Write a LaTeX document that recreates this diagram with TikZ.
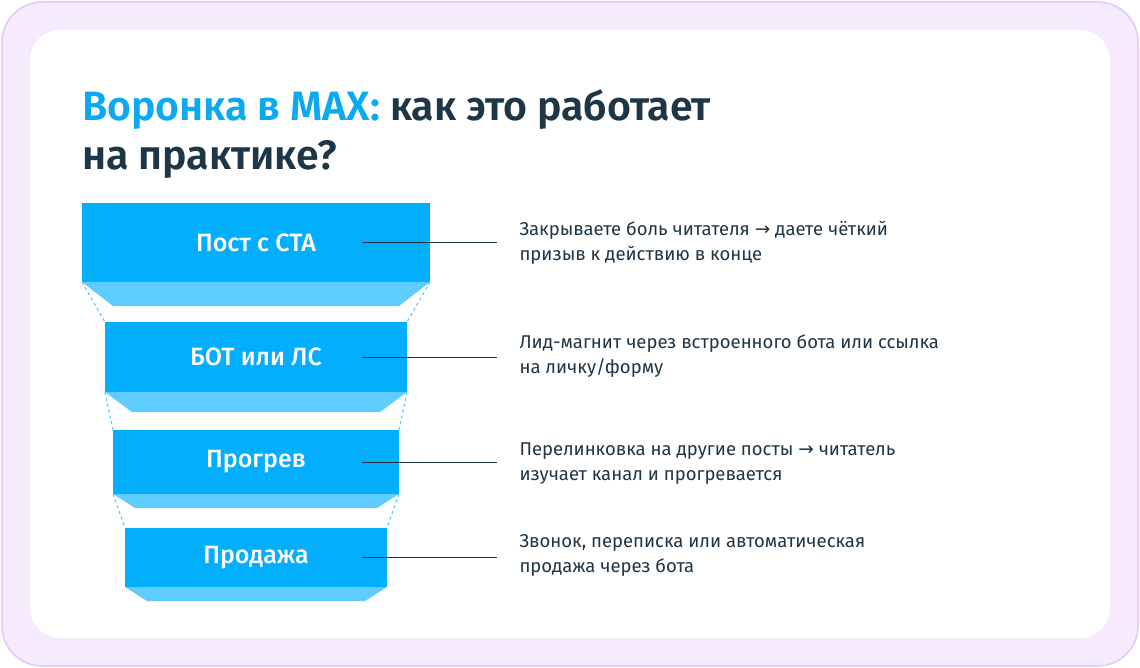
\documentclass[tikz,border=0pt]{standalone}
\usepackage{fontspec}
\setmainfont{Fira Sans}[BoldFont={Fira Sans SemiBold}]
\newfontfamily\arrowfont{DejaVu Sans}
\newfontfamily\mediumfont{Fira Sans Medium}
\usetikzlibrary{positioning,calc}
\definecolor{frame}{HTML}{F6EAFD}
\definecolor{frameline}{HTML}{E3C9F7}
\definecolor{funnel}{HTML}{03AFFD}
\definecolor{funnellow}{HTML}{5FCCFF}
\definecolor{ink}{HTML}{1E3646}
\definecolor{titleblue}{HTML}{0AA9F0}
\newcommand{\rarr}{{\arrowfont →}}
\tikzset{
	steplabel/.style={text=white,font=\fontsize{25}{27}\mediumfont},
	desc/.style={anchor=west,align=left,text=ink,font=\fontsize{18.5}{25}\selectfont},
	lead/.style={draw=ink,line width=1pt},
	gap/.style={draw=funnellow,dashed,line width=1.2pt}
}
\newcommand{\funnelstep}[8]{%
	% #1 name, #2 left, #3 right, #4 top, #5 main bottom, #6 bottom, #7 inset, #8 label
	\fill[funnel] (#2,-#4) rectangle (#3,-#5);
	\fill[funnellow] (#2,-#5) -- (#3,-#5) -- (#3-#7,-#6) -- (#2+#7,-#6) -- cycle;
	\coordinate (#1tl) at (#2,-#4);
	\coordinate (#1tr) at (#3,-#4);
	\coordinate (#1bl) at (#2,-#5);
	\coordinate (#1br) at (#3,-#5);
	\node[steplabel] (#1) at ({(#2+#3)/2},{-(#4+#5)/2}) {#8};
}
\begin{document}
\begin{tikzpicture}[x=1pt,y=1pt]
	\useasboundingbox (0,0) rectangle (1140,-668);
	%%%% frame
	\draw[fill=frame,draw=frameline,line width=1.5pt,rounded corners=40] (2,-2) rectangle (1138,-666);
	\fill[white,rounded corners=30] (30,-30) rectangle (1110,-638);

	%%%% title
	\node[anchor=base west,inner sep=0,font=\fontsize{41}{46}\bfseries] (title1) at (82,-121)
		{\textcolor{titleblue}{Воронка в MAX:} \textcolor{ink}{как это работает}};
	\node[anchor=base west,inner sep=0,font=\fontsize{41}{46}\bfseries,text=ink] (title2) at (82,-170) {на практике?};

	%%%% funnel
	\funnelstep{post}{82}{430}{203}{282}{306}{31}{Пост с СТА}
	\funnelstep{bot}{105}{407}{322}{392}{412}{27}{БОТ или ЛС}
	\funnelstep{warm}{113}{399}{430}{494}{508}{22}{Прогрев}
	\funnelstep{sale}{125}{387}{528}{587}{601}{22}{Продажа}

	\draw[gap] (postbl) -- (bottl) (postbr) -- (bottr);
	\draw[gap] (botbl) -- (warmtl) (botbr) -- (warmtr);
	\draw[gap] (warmbl) -- (saletl) (warmbr) -- (saletr);

	%%%% descriptions
	\node[desc] (d1) at (516,-243) {Закрываете боль читателя \rarr{} даете чёткий\\призыв к действию в конце};
	\node[desc] (d2) at (516,-356) {Лид-магнит через встроенного бота или ссылка\\на личку/форму};
	\node[desc] (d3) at (516,-464) {Перелинковка на другие посты \rarr{} читатель\\изучает канал и прогревается};
	\node[desc] (d4) at (516,-555) {Звонок, переписка или автоматическая\\продажа через бота};

	\foreach \s/\d in {post/d1,bot/d2,warm/d3,sale/d4}
		\draw[lead] (362,0 |- \s) -- (497,0 |- \s);
\end{tikzpicture}
\end{document}
